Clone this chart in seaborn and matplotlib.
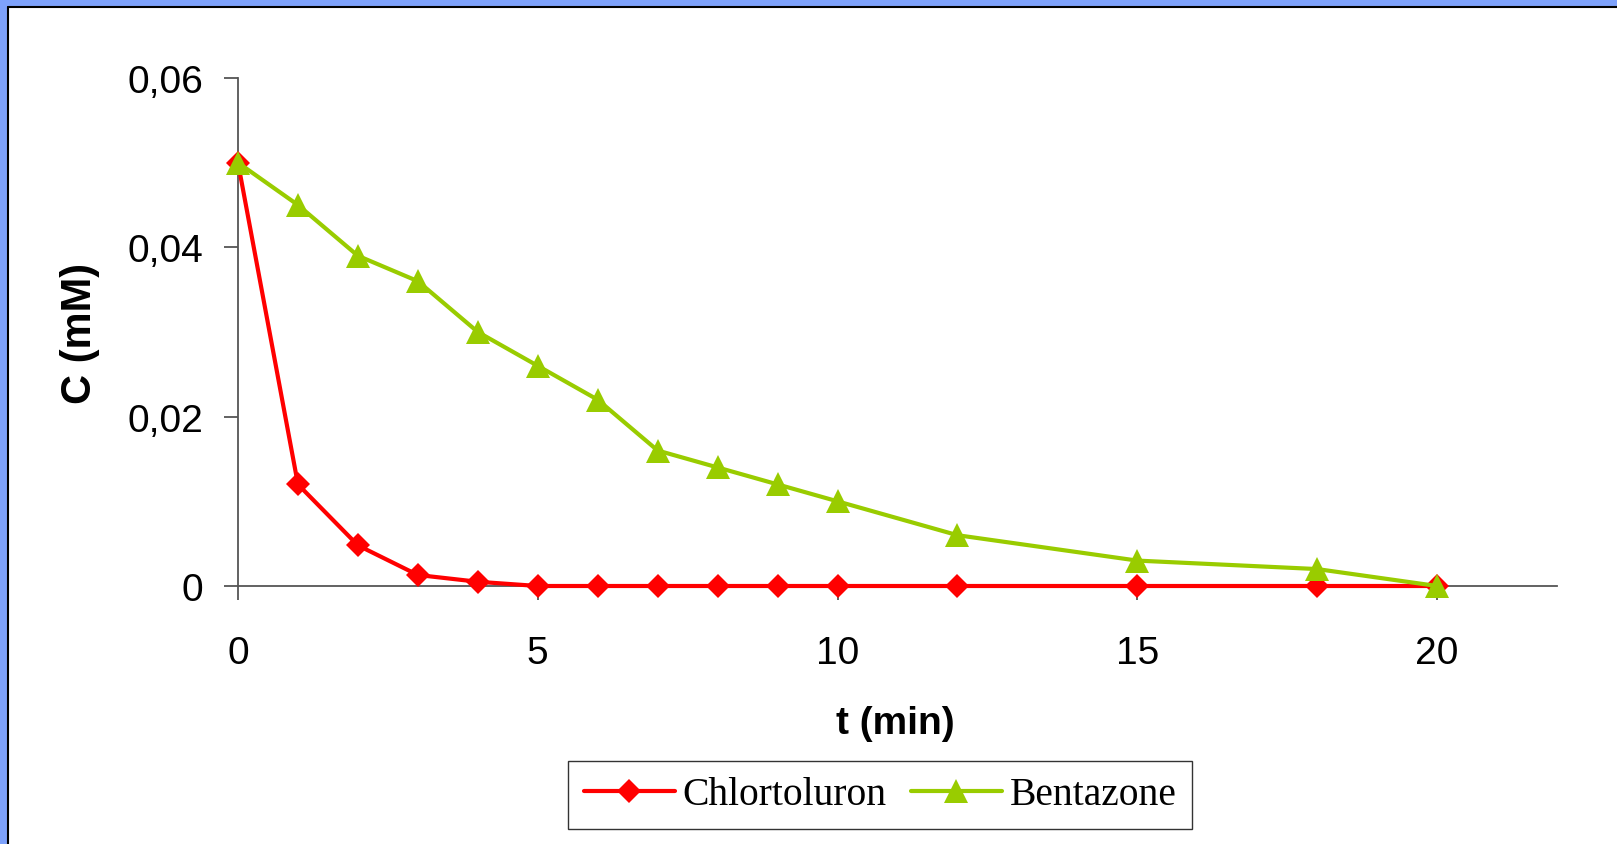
import matplotlib
matplotlib.use("Agg")
import pandas as pd
import matplotlib.pyplot as plt
import seaborn as sns
from matplotlib.patches import Rectangle
from matplotlib.lines import Line2D

# data
t_min = [0, 1, 2, 3, 4, 5, 6, 7, 8, 9, 10, 12, 15, 18, 20]
chlortoluron = [0.05, 0.012, 0.0048, 0.0013, 0.0005, 0, 0, 0, 0, 0, 0, 0, 0, 0, 0]
bentazone = [0.05, 0.045, 0.039, 0.036, 0.030, 0.026, 0.022, 0.016, 0.014, 0.012,
             0.010, 0.006, 0.003, 0.002, 0.0]
x_ticks = [0, 5, 10, 15, 20]
y_ticks = [0, 0.02, 0.04, 0.06]
y_tick_labels = ['0', '0,02', '0,04', '0,06']

df = pd.DataFrame({'t': t_min, 'Chlortoluron': chlortoluron, 'Bentazone': bentazone})

sns.set_style('white')
plt.rcParams['font.family'] = ['Liberation Sans', 'DejaVu Sans']
plt.rcParams['text.color'] = 'black'

fig = plt.figure(figsize=(16.17, 8.45), dpi=100)
fig.patch.set_facecolor('white')

# slide border (top and left only)
blue = '#7EA2FB'
fig.add_artist(Rectangle((0, 1 - 7 / 845), 1, 7 / 845, transform=fig.transFigure,
                         facecolor=blue, edgecolor='none'))
fig.add_artist(Rectangle((0, 0), 7 / 1617, 1, transform=fig.transFigure,
                         facecolor=blue, edgecolor='none'))
fig.add_artist(Line2D([7.5 / 1617, 1], [1 - 8 / 845, 1 - 8 / 845], transform=fig.transFigure,
                      color='black', lw=1.5))
fig.add_artist(Line2D([8 / 1617, 8 / 1617], [0, 1 - 7.5 / 845], transform=fig.transFigure,
                      color='black', lw=1.5))

ax = fig.add_axes([238 / 1617, 1 - 587 / 845, (1557 - 238) / 1617, (587 - 79) / 845])
ax.set_facecolor('white')

sns.lineplot(data=df, x='t', y='Chlortoluron', ax=ax, color='#FF0000', lw=3,
             marker='D', markersize=12.5, markeredgecolor='#FF0000', markeredgewidth=0,
             label='Chlortoluron', clip_on=False, zorder=3)
sns.lineplot(data=df, x='t', y='Bentazone', ax=ax, color='#99CC00', lw=3,
             marker='^', markersize=17.5, markeredgecolor='#99CC00', markeredgewidth=0,
             label='Bentazone', clip_on=False, zorder=4)

ax.set_xlim(0, 22)
ax.set_ylim(0, 0.06)
ax.set_xticks(x_ticks)
ax.set_xticklabels([str(v) for v in x_ticks])
ax.set_yticks(y_ticks)
ax.set_yticklabels(y_tick_labels)
ax.set_xlabel('')
ax.set_ylabel('')

for side in ['top', 'right']:
    ax.spines[side].set_visible(False)
for side in ['left', 'bottom']:
    ax.spines[side].set_color('#555555')
    ax.spines[side].set_linewidth(1.3)

ax.tick_params(axis='both', direction='out', length=10, width=1.3, color='#555555',
               labelsize=28, labelcolor='black')
ax.tick_params(axis='x', pad=25)
ax.tick_params(axis='y', pad=15)
ax.xaxis.set_ticks_position('bottom')
ax.yaxis.set_ticks_position('left')

fig.text(80 / 1617, 1 - 333 / 845, 'C (mM)', rotation=90, ha='center', va='center',
         fontsize=30, fontweight='bold', color='black')
fig.text(895 / 1617, 1 - 724 / 845, 't (min)', ha='center', va='center',
         fontsize=28, fontweight='bold', color='black')

handles, labels = ax.get_legend_handles_labels()
if ax.get_legend() is not None:
    ax.get_legend().remove()
leg = fig.legend(handles, labels, loc='center', bbox_to_anchor=(880 / 1617, 1 - 796 / 845),
                 ncol=2, frameon=True, fancybox=False, shadow=False,
                 prop={'family': 'Liberation Serif', 'size': 28.5},
                 handlelength=2.3, handletextpad=0.2, columnspacing=0.6,
                 borderpad=0.4, edgecolor='black')
leg.get_frame().set_linewidth(1.0)
for txt in leg.get_texts():
    txt.set_color('black')

fig.savefig('out.png', dpi=100)
